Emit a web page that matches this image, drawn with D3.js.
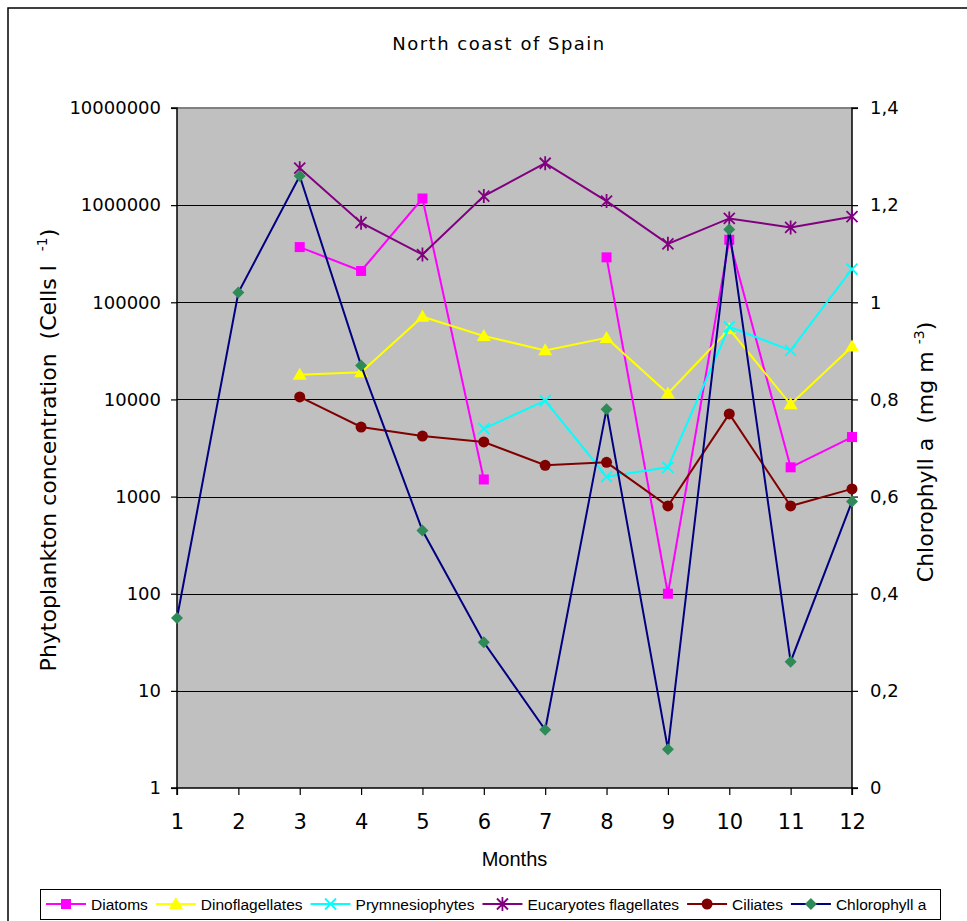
<!DOCTYPE html>
<html>
<head>
<meta charset="utf-8">
<script src="https://cdn.jsdelivr.net/npm/d3@7"></script>
<style>
  html, body { margin: 0; padding: 0; background: #fff; }
  svg { display: block; }
</style>
</head>
<body>
<svg id="chart" width="967" height="921"></svg>
<script>
// Monthly phytoplankton groups (cells per litre) and chlorophyll a (mg m-3)
const months = [1, 2, 3, 4, 5, 6, 7, 8, 9, 10, 11, 12];
const diatoms         = [null, null, 370000, 210000, 1170000, 1500, null, 290000, 100, 440000, 2000, 4100];
const dinoflagellates = [null, null, 18000, 19000, 71000, 45000, 32000, 43000, 11500, 53000, 8900, 35000];
const prymnesiophytes = [null, null, null, null, null, 5000, 9700, 1600, 2000, 56000, 32000, 220000];
const eucaryotes      = [null, null, 2400000, 660000, 310000, 1240000, 2700000, 1100000, 400000, 730000, 590000, 760000];
const ciliates        = [null, null, 10600, 5200, 4200, 3650, 2100, 2250, 800, 7100, 800, 1200];
const chlorophyll     = [0.35, 1.02, 1.26, 0.87, 0.53, 0.30, 0.12, 0.78, 0.08, 1.15, 0.26, 0.59];

const leftTicks = [1, 10, 100, 1000, 10000, 100000, 1000000, 10000000];
const leftTickLabels = ["1", "10", "100", "1000", "10000", "100000", "1000000", "10000000"];
const rightTicks = [0, 0.2, 0.4, 0.6, 0.8, 1, 1.2, 1.4];
const rightTickLabels = ["0", "0,2", "0,4", "0,6", "0,8", "1", "1,2", "1,4"];

const seriesNames = ["Diatoms", "Dinoflagellates", "Prymnesiophytes", "Eucaryotes flagellates", "Ciliates", "Chlorophyll a"];

const svg = d3.select("#chart");
const W = 967, H = 921;
const plot = { left: 177, right: 852, top: 108, bottom: 788 };

const x = d3.scaleLinear().domain([1, 12]).range([plot.left, plot.right]);
const yL = d3.scaleLog().domain([1, 1e7]).range([plot.bottom, plot.top]);
const yR = d3.scaleLinear().domain([0, 1.4]).range([plot.bottom, plot.top]);

// outer chart frame
svg.append("rect").attr("x", 0).attr("y", 0).attr("width", W).attr("height", H).attr("fill", "#fff");
svg.append("rect").attr("x", 8).attr("y", 8).attr("width", 1100).attr("height", 1100)
  .attr("fill", "none").attr("stroke", "#000").attr("stroke-width", 1.5);

// title
svg.append("text").attr("x", 499).attr("y", 50).attr("text-anchor", "middle")
  .style("font-family", "'DejaVu Sans'").style("font-size", "18px").style("letter-spacing", "1.5px")
  .attr("fill", "#000").text("North coast of Spain");

// plot background
svg.append("rect").attr("x", plot.left).attr("y", plot.top)
  .attr("width", plot.right - plot.left).attr("height", plot.bottom - plot.top)
  .attr("fill", "#c0c0c0");
svg.append("line").attr("x1", plot.left).attr("x2", plot.right).attr("y1", plot.top).attr("y2", plot.top)
  .attr("stroke", "#808080").attr("stroke-width", 2);

// horizontal gridlines at each decade
svg.append("g").selectAll("line").data(leftTicks.slice(1, -1)).join("line")
  .attr("x1", plot.left).attr("x2", plot.right)
  .attr("y1", d => Math.round(yL(d)) + 0.5).attr("y2", d => Math.round(yL(d)) + 0.5)
  .attr("stroke", "#000").attr("stroke-width", 1.2);

// axes
const tickFont = "'DejaVu Sans'";
const gLeft = svg.append("g").attr("transform", `translate(${plot.left},0)`)
  .call(d3.axisLeft(yL).tickValues(leftTicks).tickFormat((d, i) => leftTickLabels[i]).tickSize(6).tickPadding(10));
const gRight = svg.append("g").attr("transform", `translate(${plot.right},0)`)
  .call(d3.axisRight(yR).tickValues(rightTicks).tickFormat((d, i) => rightTickLabels[i]).tickSize(6).tickPadding(12));
const gBottom = svg.append("g").attr("transform", `translate(0,${plot.bottom})`)
  .call(d3.axisBottom(x).tickValues(months).tickFormat(d3.format("d")).tickSize(7).tickPadding(19));

[gLeft, gRight, gBottom].forEach(g => {
  g.select(".domain").attr("stroke", "#000").attr("stroke-width", 1.5);
  g.selectAll(".tick line").attr("stroke", "#000").attr("stroke-width", 1.2);
  g.selectAll("text").style("font-family", tickFont).style("font-size", "18px").attr("fill", "#000");
});
gBottom.selectAll("text").style("font-size", "21px");
gLeft.select(".domain").attr("d", `M-6,${plot.top}H0V${plot.bottom}H-6`);
gRight.select(".domain").attr("d", `M6,${plot.top}H0V${plot.bottom}H6`);
gBottom.select(".domain").attr("d", `M${plot.left},7V0H${plot.right}V7`);

// axis titles
const leftTitle = svg.append("text")
  .attr("transform", `translate(56,${(plot.top + plot.bottom) / 2 + 2}) rotate(-90)`)
  .attr("text-anchor", "middle").attr("fill", "#000")
  .style("font-family", "'DejaVu Sans'").style("font-size", "22px").style("white-space", "pre");
leftTitle.append("tspan").text("Phytoplankton concentration  (Cells l  ");
leftTitle.append("tspan").attr("dy", -9).style("font-size", "14px").text("-1");
leftTitle.append("tspan").attr("dy", 9).text(")");

const rightTitle = svg.append("text")
  .attr("transform", `translate(933,${(plot.top + plot.bottom) / 2 + 4}) rotate(-90)`)
  .attr("text-anchor", "middle").attr("fill", "#000")
  .style("font-family", "'DejaVu Sans'").style("font-size", "22px").style("white-space", "pre");
rightTitle.append("tspan").text("Chlorophyll a  (mg m ");
rightTitle.append("tspan").attr("dy", -9).style("font-size", "14px").text("-3");
rightTitle.append("tspan").attr("dy", 9).text(")");

svg.append("text").attr("x", (plot.left + plot.right) / 2).attr("y", 866).attr("text-anchor", "middle")
  .style("font-family", "'Liberation Sans'").style("font-size", "20px").attr("fill", "#000").text("Months");

// marker shapes
function drawMarker(g, type, color, cx, cy) {
  if (type === "square") {
    g.append("rect").attr("x", cx - 5).attr("y", cy - 5).attr("width", 10).attr("height", 10).attr("fill", color);
  } else if (type === "triangle") {
    g.append("path").attr("d", `M${cx},${cy - 7}L${cx + 7},${cy + 5}L${cx - 7},${cy + 5}Z`).attr("fill", color);
  } else if (type === "x") {
    g.append("path").attr("d", `M${cx - 5.5},${cy - 5.5}L${cx + 5.5},${cy + 5.5}M${cx - 5.5},${cy + 5.5}L${cx + 5.5},${cy - 5.5}`)
      .attr("stroke", color).attr("stroke-width", 1.8);
  } else if (type === "star") {
    g.append("path").attr("d", `M${cx - 5.5},${cy - 5.5}L${cx + 5.5},${cy + 5.5}M${cx - 5.5},${cy + 5.5}L${cx + 5.5},${cy - 5.5}M${cx},${cy - 7}L${cx},${cy + 7}`)
      .attr("stroke", color).attr("stroke-width", 1.8);
  } else if (type === "circle") {
    g.append("circle").attr("cx", cx).attr("cy", cy).attr("r", 5.5).attr("fill", color);
  } else if (type === "diamond") {
    g.append("path").attr("d", `M${cx},${cy - 6}L${cx + 6},${cy}L${cx},${cy + 6}L${cx - 6},${cy}Z`).attr("fill", color);
  }
}

const series = [
  { name: seriesNames[0], values: diatoms, line: "#ff00ff", marker: "#ff00ff", shape: "square", axis: yL },
  { name: seriesNames[1], values: dinoflagellates, line: "#ffff00", marker: "#ffff00", shape: "triangle", axis: yL },
  { name: seriesNames[2], values: prymnesiophytes, line: "#00ffff", marker: "#00ffff", shape: "x", axis: yL },
  { name: seriesNames[3], values: eucaryotes, line: "#800080", marker: "#800080", shape: "star", axis: yL },
  { name: seriesNames[4], values: ciliates, line: "#800000", marker: "#800000", shape: "circle", axis: yL },
  { name: seriesNames[5], values: chlorophyll, line: "#000080", marker: "#2e8b57", shape: "diamond", axis: yR }
];

const gSeries = svg.append("g");
series.forEach(s => {
  const pts = months.map((m, i) => ({ m, v: s.values[i] }));
  const line = d3.line().defined(d => d.v !== null).x(d => x(d.m)).y(d => s.axis(d.v));
  const g = gSeries.append("g");
  g.append("path").attr("d", line(pts)).attr("fill", "none").attr("stroke", s.line).attr("stroke-width", 2);
  pts.filter(d => d.v !== null).forEach(d => drawMarker(g, s.shape, s.marker, x(d.m), s.axis(d.v)));
});

// legend
const legend = svg.append("g");
legend.append("rect").attr("x", 40.5).attr("y", 889.5).attr("width", 900).attr("height", 30)
  .attr("fill", "#fff").attr("stroke", "#000").attr("stroke-width", 1);
let lx = 46;
series.forEach(s => {
  const cy = 904;
  legend.append("line").attr("x1", lx).attr("x2", lx + 40).attr("y1", cy).attr("y2", cy)
    .attr("stroke", s.line).attr("stroke-width", 2);
  drawMarker(legend, s.shape, s.marker, lx + 20, cy);
  const t = legend.append("text").attr("x", lx + 45).attr("y", cy + 5.5)
    .style("font-family", "'Liberation Sans'").style("font-size", "15.5px").attr("fill", "#000").text(s.name);
  lx += 45 + t.node().getComputedTextLength() + 8;
});
</script>
</body>
</html>
